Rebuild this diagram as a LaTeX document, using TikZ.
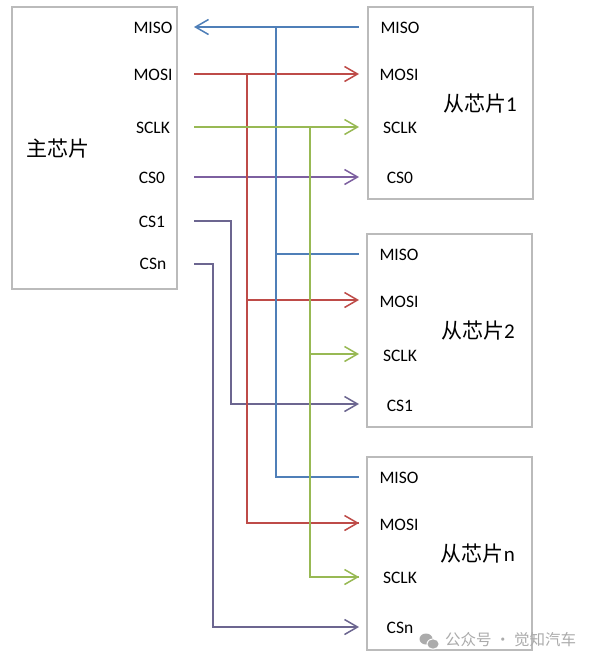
\documentclass[tikz,border=0pt]{standalone}
\usepackage{fontspec}
\setmainfont{Carlito}
\newfontfamily\cjk{Noto Sans CJK SC}
\usetikzlibrary{arrows.meta}
\definecolor{cblue}{HTML}{4F7FB8}
\definecolor{cred}{HTML}{BE4B48}
\definecolor{cgreen}{HTML}{98B954}
\definecolor{cpurple}{HTML}{7D60A0}
\definecolor{cslate}{HTML}{6C6690}
\definecolor{boxgray}{HTML}{BBBBBB}
\definecolor{wmgray}{HTML}{ABABAB}
\tikzset{
  chip/.style={draw=boxgray, line width=1.6pt, fill=white, inner sep=0pt},
  pin/.style={anchor=base, inner sep=0pt, font=\fontsize{17.5}{19}\selectfont},
  title/.style={anchor=center, inner sep=0pt, font=\fontsize{21}{24}\selectfont},
  wire/.style={line width=1.5pt},
  arr/.style={wire, -{Straight Barb[length=13pt, width=15pt, line width=1.5pt]}},
  rarr/.style={wire, {Straight Barb[length=13pt, width=15pt, line width=1.5pt]}-},
}
\begin{document}
\begin{tikzpicture}[x=1pt, y=-1pt]
\useasboundingbox (0,0) rectangle (597,664);
\fill[white] (0,0) rectangle (597,664);

% chips
\node[chip, minimum width=165pt, minimum height=282pt] (master) at (94.5,148) {};
\node[chip, minimum width=165pt, minimum height=192pt] (s1) at (450.5,103) {};
\node[chip, minimum width=165pt, minimum height=193pt] (s2) at (449.5,330.5) {};
\node[chip, minimum width=165pt, minimum height=193pt] (sn) at (449.5,553.5) {};

\node[title] (tm) at (58,149) {\cjk 主芯片};
\node[title] (t1) at (480,104) {{\cjk 从芯片}1};
\node[title] (t2) at (478,331) {{\cjk 从芯片}2};
\node[title] (tn) at (478,554) {{\cjk 从芯片}n};

% master pins
\node[pin] (mp1) at (153,33) {MISO};
\node[pin] (mp2) at (153,80) {MOSI};
\node[pin] (mp3) at (153,133) {SCLK};
\node[pin] (mp4) at (152,183) {CS0};
\node[pin] (mp5) at (152,227) {CS1};
\node[pin] (mp6) at (153,269) {CSn};

% slave 1 pins
\node[pin] (a1) at (400,33) {MISO};
\node[pin] (a2) at (399,80) {MOSI};
\node[pin] (a3) at (400,133) {SCLK};
\node[pin] (a4) at (400,183) {CS0};
% slave 2 pins
\node[pin] (b1) at (399,260) {MISO};
\node[pin] (b2) at (399,307) {MOSI};
\node[pin] (b3) at (400,361) {SCLK};
\node[pin] (b4) at (400,411) {CS1};
% slave n pins
\node[pin] (c1) at (399,483) {MISO};
\node[pin] (c2) at (399,530) {MOSI};
\node[pin] (c3) at (400,583) {SCLK};
\node[pin] (c4) at (400,633) {CSn};

% wire end coordinates
\coordinate (mMISO) at (194,27);
\coordinate (mMOSI) at (194,74);
\coordinate (mSCLK) at (194,127);
\coordinate (mCS0) at (194,177);
\coordinate (mCS1) at (194,221);
\coordinate (mCSn) at (194,264);

\coordinate (s1MISO) at (359,27);
\coordinate (s1MOSI) at (359,74);
\coordinate (s1SCLK) at (359,127);
\coordinate (s1CS0) at (359,177);
\coordinate (s2MISO) at (359,254);
\coordinate (s2MOSI) at (359,300);
\coordinate (s2SCLK) at (359,354);
\coordinate (s2CS1) at (359,404);
\coordinate (snMISO) at (359,477);
\coordinate (snMOSI) at (359,523);
\coordinate (snSCLK) at (359,577);
\coordinate (snCSn) at (359,627);

% bus junctions
\coordinate (jMISO) at (276,27);
\coordinate (jMOSI) at (247,74);
\coordinate (jSCLK) at (310,127);

% CS lines
\draw[arr, cpurple] (mCS0) -- (s1CS0);
\draw[arr, cslate] (mCS1) -| (231,404) -- (s2CS1);
\draw[arr, cslate] (mCSn) -| (213,627) -- (snCSn);

% MOSI (red)
\draw[arr, cred] (mMOSI) -- (s1MOSI);
\draw[wire, cred] (jMOSI) |- (snMOSI);
\draw[arr, cred] (jMOSI |- s2MOSI) -- (s2MOSI);
\draw[arr, cred] (jMOSI |- snMOSI) -- (snMOSI);

% MISO (blue)
\draw[rarr, cblue] (mMISO) -- (s1MISO);
\draw[wire, cblue] (jMISO) |- (snMISO);
\draw[wire, cblue] (jMISO |- s2MISO) -- (s2MISO);

% SCLK (green)
\draw[arr, cgreen] (mSCLK) -- (s1SCLK);
\draw[wire, cgreen] (jSCLK) |- (snSCLK);
\draw[arr, cgreen] (jSCLK |- s2SCLK) -- (s2SCLK);
\draw[arr, cgreen] (jSCLK |- snSCLK) -- (snSCLK);

% watermark
\fill[wmgray] (426,639) ellipse (6.5pt and 5.5pt);
\fill[white] (433,644) ellipse (6.5pt and 5.5pt);
\fill[wmgray] (433,644) ellipse (5.5pt and 4.6pt);
\node[inner sep=0pt, anchor=west, text=wmgray, font=\fontsize{15.5}{17}\selectfont] (wm) at (445,640) {\cjk 公众号 · 觉知汽车};
\end{tikzpicture}
\end{document}
